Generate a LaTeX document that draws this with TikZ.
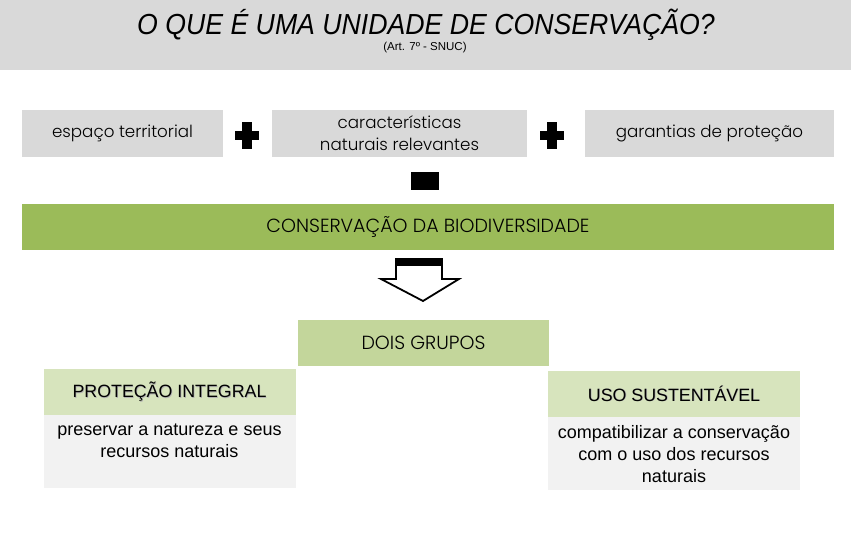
\documentclass[tikz,border=0pt]{standalone}
\usepackage{fontspec}
\setmainfont{Liberation Sans}
\newfontfamily\gothic{Poppins}[UprightFont=* Light]
\usetikzlibrary{positioning}
\definecolor{hdrgray}{HTML}{D9D9D9}
\definecolor{bargreen}{HTML}{9BBB59}
\definecolor{grpgreen}{HTML}{C3D69B}
\definecolor{headgreen}{HTML}{D7E4BD}
\definecolor{bodygray}{HTML}{F2F2F2}
\newcommand{\shadowtxt}[1]{\rlap{\color{black!30}\hspace{0.7pt}\raisebox{-0.7pt}{#1}}#1}

\begin{document}
\begin{tikzpicture}[
    x=1pt, y=-1pt,
    topbox/.style={fill=hdrgray, inner sep=0pt, align=center,
      font=\gothic\fontsize{16.7}{22}\selectfont},
    grp/.style={fill=grpgreen, inner sep=0pt, minimum width=251, minimum height=46,
      font=\gothic\fontsize{19}{22}\selectfont},
    kind/.style={fill=headgreen, inner sep=0pt, minimum width=252, minimum height=46,
      font=\fontsize{17.8}{20}\selectfont},
    body/.style={fill=bodygray, inner sep=0pt, minimum width=252},
    bodytxt/.style={align=center, inner sep=0pt, font=\fontsize{18}{21.7}\selectfont},
]
\useasboundingbox (0,0) rectangle (851,540);
\fill[hdrgray] (0,0) rectangle (851,70);
\node (title) at (426,25)
  {\scalebox{0.92}[1]{\fontsize{29}{32}\selectfont\itshape O QUE É UMA UNIDADE DE CONSERVAÇÃO?}};
\node[font=\fontsize{11.5}{12}\selectfont] (art) at (425,48) {(Art. 7º - SNUC)};

% tres parcelas
\node[topbox, minimum width=201, minimum height=47] (esp) at (122.5,133.5) {espaço territorial};
\node[topbox, minimum width=255, minimum height=47] (car) at (399.5,133.5)
  {características\\naturais relevantes};
\node[topbox, minimum width=249, minimum height=47] (gar) at (709.5,133.5) {garantias de proteção};
\foreach \cx in {247,552} {
  \fill (\cx-12,131) rectangle (\cx+12,140.5);
  \fill (\cx-4.8,122) rectangle (\cx+4.8,149);
}
\fill (411,172) rectangle (439,190);

\node[fill=bargreen, minimum width=812, minimum height=46, inner sep=0pt,
  font=\gothic\fontsize{19}{22}\selectfont] (cons) at (428,227) {CONSERVAÇÃO DA BIODIVERSIDADE};

% seta
\draw[line width=1.8, line join=miter] (396,264) -- (396,279) -- (381,279) -- (423,301)
  -- (459,279) -- (442,279) -- (442,264);
\fill (395,258) rectangle (442.5,266);

\node[grp] (dois) at (423.5,343) {DOIS GRUPOS};

% grupos
\node[kind] (pi) at (169.5,392) {\shadowtxt{PROTEÇÃO INTEGRAL}};
\node[body, minimum height=73, below=0pt of pi] (pib) {};
\node[bodytxt, below=8.5pt of pib.north] (pit) {preservar a natureza e seus\\recursos naturais};

\node[kind] (us) at (674,394) {\shadowtxt{USO SUSTENTÁVEL}};
\node[body, minimum height=73, below=0pt of us] (usb) {};
\node[bodytxt, below=8.5pt of usb.north] (ust)
  {compatibilizar a conservação\\com o uso dos recursos\\naturais};
\end{tikzpicture}
\end{document}
